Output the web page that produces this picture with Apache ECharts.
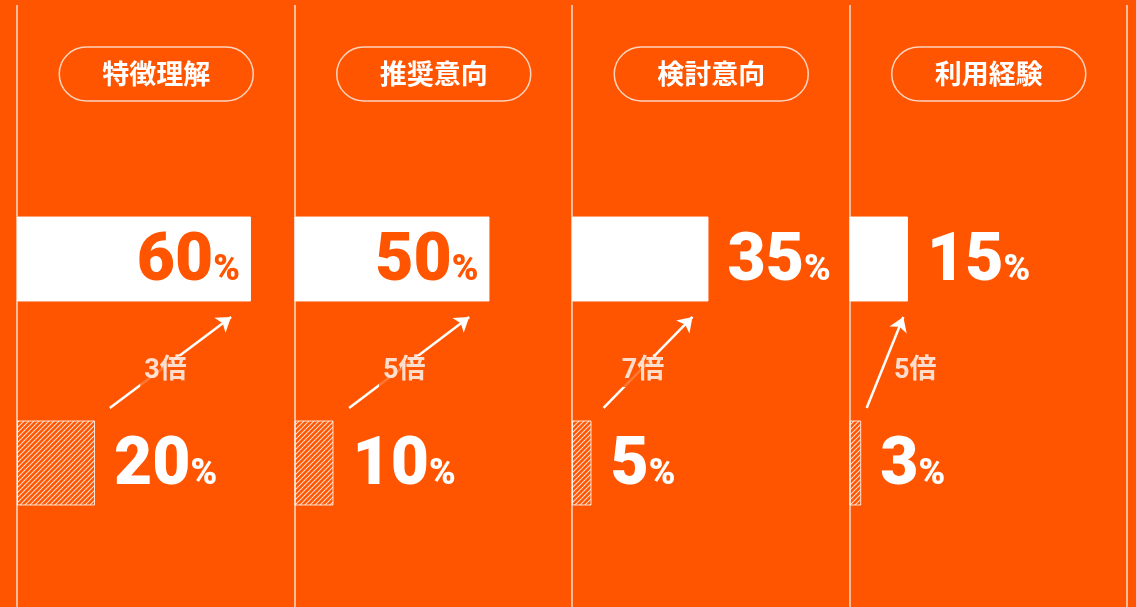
<!DOCTYPE html>
<html>
<head>
<meta charset="utf-8">
<script src="https://cdn.jsdelivr.net/npm/echarts@6/dist/echarts.min.js"></script>
<style>
    html, body { margin: 0; padding: 0; background: #ff5500; }
    #chart { width: 1136px; height: 607px; }
</style>
</head>
<body>
<div id="chart"></div>
<script>
const categories = ['特徴理解', '推奨意向', '検討意向', '利用経験'];
const afterValues = [60, 50, 35, 15];
const beforeValues = [20, 10, 5, 3];
const ratioLabels = ['3倍', '5倍', '7倍', '5倍'];
// arrow start / end along each panel's % axis
const arrowFrom = [23.8, 14.0, 8.1, 4.4];
const arrowTo = [54.9, 44.8, 30.9, 13.8];

const ORANGE = '#ff5500';
const PANEL_LEFT = 17;
const PANEL_RIGHT = 9;
const panelW = (1136 - PANEL_LEFT - PANEL_RIGHT) / 4;
const X_MAX = panelW / 3.9;
// hidden value axis: 0..1 = top band, 1..2 = bottom band
const ARROW_Y0 = 1.23;
const ARROW_Y1 = 0.784;
const PILL_W = 193;
const NUM_FONT = 'Roboto, "Liberation Sans", sans-serif';
const JP_FONT = '"Noto Sans CJK JP", sans-serif';

function hatchPattern() {
    const c = document.createElement('canvas');
    c.width = 5;
    c.height = 5;
    const ctx = c.getContext('2d');
    ctx.strokeStyle = 'rgba(255,255,255,0.8)';
    ctx.lineWidth = 1.1;
    for (const k of [0, 5, 10]) {
        ctx.beginPath();
        ctx.moveTo(-1, k + 1);
        ctx.lineTo(k + 1, -1);
        ctx.stroke();
    }
    return c;
}
const hatch = { image: hatchPattern(), repeat: 'repeat' };

function valueLabel(v, inside, color) {
    return {
        show: true,
        position: inside ? 'insideRight' : 'right',
        distance: inside ? 11 : 19,
        offset: [0, 4],
        formatter: '{n|' + v + '}{p|%}',
        rich: {
            n: { color, fontFamily: NUM_FONT, fontWeight: 900, fontSize: 66, verticalAlign: 'bottom' },
            p: { color, fontFamily: NUM_FONT, fontWeight: 900, fontSize: 36, verticalAlign: 'bottom', padding: [0, 0, 7, 0] }
        }
    };
}

const grids = [], xAxes = [], yCat = [], yVal = [], series = [];

categories.forEach((name, i) => {
    grids.push({ left: PANEL_LEFT + panelW * i, width: panelW, top: 157, height: 408 });
    xAxes.push({ type: 'value', gridIndex: i, min: 0, max: X_MAX, show: false });
    yCat.push({ type: 'category', gridIndex: i, data: ['after', 'before'], inverse: true, show: false });
    yVal.push({ type: 'value', gridIndex: i, min: 0, max: 2, inverse: true, show: false });

    const after = afterValues[i];
    const before = beforeValues[i];
    const inside = after >= 40;

    series.push({
        type: 'bar',
        xAxisIndex: i,
        yAxisIndex: i,
        barWidth: 85,
        silent: true,
        data: [
            {
                value: after,
                itemStyle: { color: '#fff', borderColor: 'rgba(255,255,255,0.9)', borderWidth: 1 },
                label: valueLabel(after, inside, inside ? ORANGE : '#fff')
            },
            {
                value: before,
                itemStyle: { color: hatch, borderColor: 'rgba(255,255,255,0.8)', borderWidth: 1 },
                label: valueLabel(before, false, '#fff')
            }
        ]
    });

    series.push({
        type: 'lines',
        coordinateSystem: 'cartesian2d',
        xAxisIndex: i,
        yAxisIndex: 4 + i,
        symbol: ['none', 'arrow'],
        symbolSize: 14,
        silent: true,
        z: 3,
        lineStyle: { color: '#fff', width: 2.5, opacity: 1, curveness: 0 },
        data: [{ coords: [[arrowFrom[i], ARROW_Y0], [arrowTo[i], ARROW_Y1]] }]
    });

    const midX = (arrowFrom[i] + arrowTo[i]) / 2;
    const midY = (ARROW_Y0 + ARROW_Y1) / 2;
    const steep = (arrowTo[i] - arrowFrom[i]) * 3.9 < 60;
    series.push({
        type: 'scatter',
        xAxisIndex: i,
        yAxisIndex: 4 + i,
        symbolSize: 0,
        silent: true,
        z: 5,
        data: [[midX, midY]],
        label: {
            show: true,
            formatter: ratioLabels[i],
            position: steep ? 'right' : 'inside',
            distance: 5,
            offset: steep ? [0, 9] : [-5, 9],
            color: '#fff',
            fontFamily: 'Roboto, "Noto Sans CJK JP", sans-serif',
            fontSize: 27,
            fontWeight: 'bold',
            backgroundColor: steep ? 'transparent' : ORANGE,
            padding: [2, 4]
        }
    });
});

// panel separators
grids.push({ left: PANEL_LEFT, right: PANEL_RIGHT, top: 5, bottom: 0 });
xAxes.push({
    type: 'value', gridIndex: 4, min: 0, max: 4, interval: 1,
    axisLine: { show: false }, axisTick: { show: false }, axisLabel: { show: false },
    splitLine: { show: true, lineStyle: { color: 'rgba(255,255,255,0.6)', width: 2 } }
});
const yAxes = yCat.concat(yVal);
yAxes.push({ type: 'value', gridIndex: 4, show: false });

const chart = echarts.init(document.getElementById('chart'), null, { renderer: 'canvas' });
chart.setOption({
    backgroundColor: ORANGE,
    animation: false,
    title: categories.map((name, i) => ({
        text: name,
        left: PANEL_LEFT + panelW * (i + 0.5) - PILL_W / 2,
        top: 47,
        padding: [13, 43],
        borderColor: 'rgba(255,255,255,0.75)',
        borderWidth: 1.5,
        borderRadius: 28,
        textStyle: { color: '#fff', fontFamily: JP_FONT, fontSize: 27, fontWeight: 'bold', lineHeight: 28 }
    })),
    grid: grids,
    xAxis: xAxes,
    yAxis: yAxes,
    series: series
});
</script>
</body>
</html>
